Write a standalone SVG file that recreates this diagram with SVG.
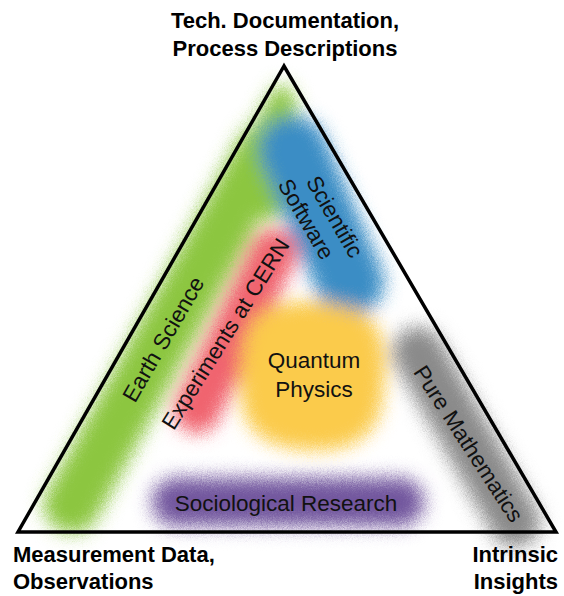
<svg xmlns="http://www.w3.org/2000/svg" width="564" height="596" viewBox="0 0 564 596">
<style>
.lbl{font-family:"Liberation Sans",Arial,sans-serif;font-size:22.5px;fill:#111;text-anchor:middle}
.corner{font-family:"Liberation Sans",Arial,sans-serif;font-size:22px;font-weight:bold;fill:#000}
.band{fill:none;stroke-linecap:round}
</style>
<defs>
<filter id="spray" x="-30%" y="-30%" width="160%" height="160%">
<feGaussianBlur in="SourceGraphic" stdDeviation="9" result="b"/>
<feTurbulence type="fractalNoise" baseFrequency="1.2" numOctaves="2" seed="3" result="n"/>
<feDisplacementMap in="b" in2="n" scale="12" xChannelSelector="R" yChannelSelector="G"/>
</filter>
</defs>
<rect width="564" height="596" fill="#fff"/>
<g id="blobs" filter="url(#spray)">
<g id="earth-blob"><path class="band" d="M72 505 L265 150" stroke="#8cc63f" stroke-width="56"/><path d="M282 95 L300 150 L270 210 L240 205 L250 150 Z" fill="#8cc63f" stroke="#8cc63f" stroke-width="20" stroke-linejoin="round"/></g>
<g id="software-blob"><path class="band" d="M293 150 L350 282" stroke="#3b8dc5" stroke-width="68"/></g>
<g id="cern-blob"><path class="band" d="M197 410 L274 252" stroke="#f0636e" stroke-width="46"/></g>
<g id="quantum-blob"><path d="M262 312 C290 296 335 300 362 312 C390 330 386 370 382 402 C376 440 345 452 312 450 C278 450 246 438 242 402 C238 366 240 326 262 312 Z" fill="#fbcb4c"/></g>
<g id="math-blob"><path class="band" d="M418 352 L515 522" stroke="#8a8a8a" stroke-width="50"/></g>
<g id="socio-blob"><path class="band" d="M176 502 L400 502" stroke="#72569e" stroke-width="48"/></g>
</g>
<g id="connectors"><path d="M284 66 L18 532 L556 532 Z" fill="none" stroke="#000" stroke-width="3.5" stroke-linejoin="miter"/></g>
<g id="node-top"><text class="corner" x="285" y="28" text-anchor="middle">Tech. Documentation,</text><text class="corner" x="285" y="56" text-anchor="middle">Process Descriptions</text></g>
<g id="node-left"><text class="corner" x="13" y="562">Measurement Data,</text><text class="corner" x="13" y="589">Observations</text></g>
<g id="node-right"><text class="corner" x="558" y="562" text-anchor="end">Intrinsic</text><text class="corner" x="558" y="589" text-anchor="end">Insights</text></g>
<g id="node-earth"><text class="lbl" transform="translate(170,343) rotate(-60)">Earth Science</text></g>
<g id="node-software"><text class="lbl" transform="translate(322,210) rotate(60)"><tspan x="12" y="0">Scientific</tspan><tspan x="0" y="26">Software</tspan></text></g>
<g id="node-cern"><text class="lbl" transform="translate(232,338) rotate(-58)">Experiments at CERN</text></g>
<g id="node-quantum"><text class="lbl" x="314" y="368">Quantum</text><text class="lbl" x="314" y="397">Physics</text></g>
<g id="node-math"><text class="lbl" transform="translate(462,448) rotate(57)">Pure Mathematics</text></g>
<g id="node-socio"><text class="lbl" x="286" y="511">Sociological Research</text></g>
</svg>
